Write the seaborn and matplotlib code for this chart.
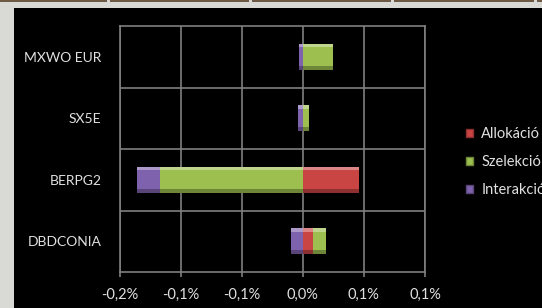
import pandas as pd
import seaborn as sns
import matplotlib.pyplot as plt
from matplotlib.patches import Patch, Rectangle
from matplotlib.colors import to_rgb

# data (values in %)
categories = ['MXWO EUR', 'SX5E', 'BERPG2', 'DBDCONIA']
series_names = ['Allokáció', 'Szelekció', 'Interakció']
allokacio = [0.0, 0.0, 0.046, 0.008]
szelekcio = [0.025, 0.005, -0.117, 0.011]
interakcio = [-0.003, -0.004, -0.019, -0.010]
x_ticks = [-0.15, -0.10, -0.05, 0.0, 0.05, 0.10]
x_tick_labels = ['-0,2%', '-0,1%', '-0,1%', '0,0%', '0,1%', '0,1%']
colors = ['#c94543', '#9cbf50', '#7f62ad']

sns.set_theme(style='dark')
plt.rcParams['font.family'] = ['Lato', 'DejaVu Sans']

df = pd.DataFrame({'kategoria': categories, 'Allokáció': allokacio,
                   'Szelekció': szelekcio, 'Interakció': interakcio})
vals = df[series_names]
# stacked bars: positives and negatives stack away from zero separately
pos_start = vals.clip(lower=0).cumsum(axis=1) - vals.clip(lower=0)
neg_start = vals.clip(upper=0).cumsum(axis=1) - vals.clip(upper=0)
left = pos_start.where(vals >= 0, neg_start)


def shade(c, f):
    r = to_rgb(c)
    if f > 0:
        return tuple(v + (1 - v) * f for v in r)
    return tuple(v * (1 + f) for v in r)


W, H = 542, 308
fig = plt.figure(figsize=(W / 100, H / 100), dpi=100, facecolor='#d9d9d5')
fig.patches.append(Rectangle((14 / W, 0), 1, 300 / H, transform=fig.transFigure,
                             facecolor='black', edgecolor='none', zorder=-10))
for x0, x1 in [(0, 107), (110, 249), (252, 391), (394, 534), (537, 542)]:
    fig.patches.append(Rectangle((x0 / W, 1 - 2 / H), (x1 - x0) / W, 2 / H,
                                 transform=fig.transFigure, facecolor='#6e5a44',
                                 edgecolor='none', zorder=-10))

ax = fig.add_axes([119.5 / W, 1 - 272 / H, (425 - 119.5) / W, 246 / H])
ax.set_facecolor('black')
ax.set_axisbelow(True)

for name, color in zip(series_names, colors):
    n0 = len(ax.patches)
    sns.barplot(data=df, x=name, y='kategoria', orient='y', color=color,
                saturation=1, width=0.42, ax=ax, edgecolor='none',
                left=left[name].values)
    # excel-like bevel: light top band, dark bottom band
    for p in list(ax.patches[n0:]):
        x, y, w, h = p.get_x(), p.get_y(), p.get_width(), p.get_height()
        if w == 0:
            continue
        ax.add_patch(Rectangle((x, y), w, h * 0.14, facecolor=shade(color, 0.35),
                               edgecolor='none', zorder=p.get_zorder()))
        ax.add_patch(Rectangle((x, y + h * 0.84), w, h * 0.16, facecolor=shade(color, -0.3),
                               edgecolor='none', zorder=p.get_zorder()))

ax.set_xlim(-0.15, 0.10)
ax.set_ylim(3.5, -0.5)
ax.set_xticks(x_ticks)
ax.set_xticklabels(x_tick_labels)
ax.set_yticks([0.5, 1.5, 2.5], minor=True)
ax.grid(axis='x', which='major', color='#7f7f7f', linewidth=1.2)
ax.grid(axis='y', which='minor', color='#7f7f7f', linewidth=1.2)
ax.grid(axis='y', which='major', visible=False)
for sp in ax.spines.values():
    sp.set_visible(True)
    sp.set_color('#7f7f7f')
    sp.set_linewidth(1.2)
ax.tick_params(axis='x', which='major', bottom=True, length=3.6, width=1.2,
               color='#7f7f7f', labelcolor='#e0e0e0', labelsize=10.5, pad=7.5)
ax.tick_params(axis='y', which='both', left=False, length=0,
               labelcolor='#e0e0e0', labelsize=10, pad=13)
ax.set_xlabel('')
ax.set_ylabel('')

handles = [Patch(facecolor=c, edgecolor=shade(c, -0.3)) for c in colors]
fig.legend(handles, series_names, loc='center left',
           bbox_to_anchor=(466 / W, 1 - 162 / H), frameon=False,
           handlelength=0.5, handleheight=0.5, handletextpad=0.55,
           labelspacing=0.95, borderpad=0, borderaxespad=0,
           fontsize=10.5, labelcolor='#e0e0e0')

fig.savefig('out.png', dpi=100, facecolor=fig.get_facecolor())
